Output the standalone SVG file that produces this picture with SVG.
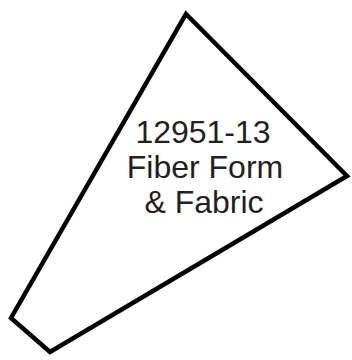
<svg xmlns="http://www.w3.org/2000/svg" width="352" height="360" viewBox="0 0 352 360">
<style>
.shape{fill:#fff;stroke:#000;stroke-width:4.5;stroke-linejoin:miter}
.lbl{font-family:"Liberation Sans",Arial,sans-serif;font-size:32px;fill:#231f20;text-anchor:middle}
</style>
<rect width="352" height="360" fill="#fff"/>
<g id="node1">
<polygon class="shape" points="186,14 347,176 50,352 11,318"/>
<text class="lbl" x="203" y="143">12951-13</text>
<text class="lbl" x="205" y="178">Fiber Form</text>
<text class="lbl" x="204" y="213">&amp; Fabric</text>
</g>
</svg>
